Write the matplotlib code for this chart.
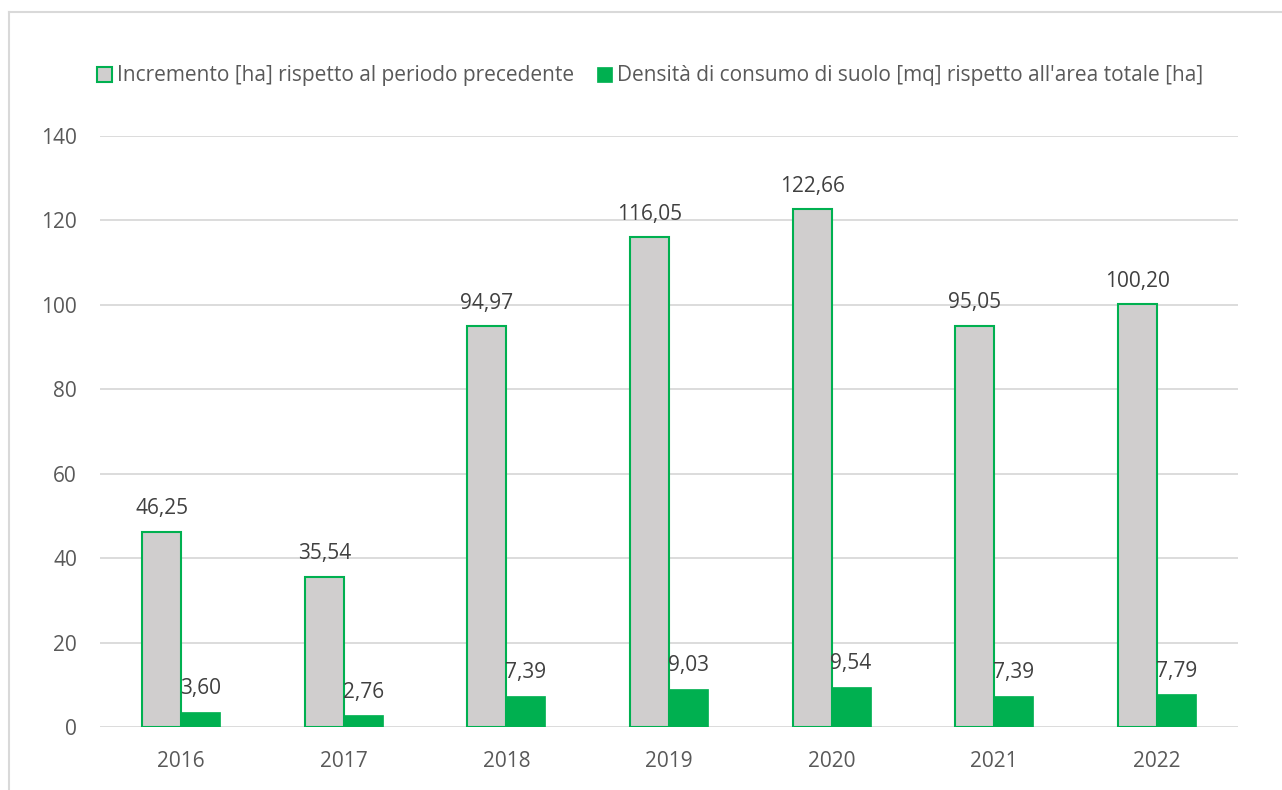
import numpy as np
import matplotlib.pyplot as plt
from matplotlib.lines import Line2D

# dati
anni = ['2016', '2017', '2018', '2019', '2020', '2021', '2022']
incremento = [46.25, 35.54, 94.97, 116.05, 122.66, 95.05, 100.20]
densita = [3.60, 2.76, 7.39, 9.03, 9.54, 7.39, 7.79]
etichette_serie = ['Incremento [ha] rispetto al periodo precedente',
                   "Densità di consumo di suolo [mq] rispetto all'area totale [ha]"]

grigio = '#d0cece'
verde = '#00b050'
testo = '#595959'
testo_dati = '#404040'
griglia = '#d9d9d9'

plt.rcParams['font.family'] = ['Open Sans', 'DejaVu Sans']

fig = plt.figure(figsize=(12.82, 7.90), dpi=100)
ax = fig.add_axes([100 / 1282, 63 / 790, 1138 / 1282, 591 / 790])

x = np.arange(len(anni))
w = 0.24
b1 = ax.bar(x - w / 2, incremento, w, color=grigio, edgecolor=verde, linewidth=1.5,
            label=etichette_serie[0], zorder=3)
b2 = ax.bar(x + w / 2, densita, w, color=verde, edgecolor=verde, linewidth=0.5,
            label=etichette_serie[1], zorder=3)

def fmt(v):
    return f'{v:.2f}'.replace('.', ',')

ax.bar_label(b1, labels=[fmt(v) for v in incremento], padding=9, fontsize=15, color=testo_dati)
ax.bar_label(b2, labels=[fmt(v) for v in densita], padding=9, fontsize=15, color=testo_dati)

ax.set_xlim(-0.5, len(anni) - 0.5)
ax.set_ylim(0, 140)
ax.set_yticks(range(0, 141, 20))
ax.set_xticks(x)
ax.set_xticklabels(anni)
ax.tick_params(axis='both', length=0, labelsize=15, labelcolor=testo)
ax.tick_params(axis='x', pad=17)
ax.tick_params(axis='y', pad=16.5)
ax.grid(axis='y', color=griglia, linewidth=1.3, zorder=0)
for s in ax.spines.values():
    s.set_visible(False)

leg = fig.legend(handles=[b1, b2], labels=etichette_serie, loc='center',
                 bbox_to_anchor=(650 / 1282, 1 - 76 / 790), ncol=2, frameon=False,
                 fontsize=15, handlelength=0.7, handleheight=0.7, handletextpad=0.25,
                 columnspacing=1.1, labelcolor=testo)

# bordo dell'area del grafico
fig.add_artist(Line2D([9 / 1282, 9 / 1282], [0, 1 - 12 / 790], color=griglia, linewidth=1.5))
fig.add_artist(Line2D([9 / 1282, 1], [1 - 12 / 790, 1 - 12 / 790], color=griglia, linewidth=1.5))

fig.savefig('out.png', dpi=100)
